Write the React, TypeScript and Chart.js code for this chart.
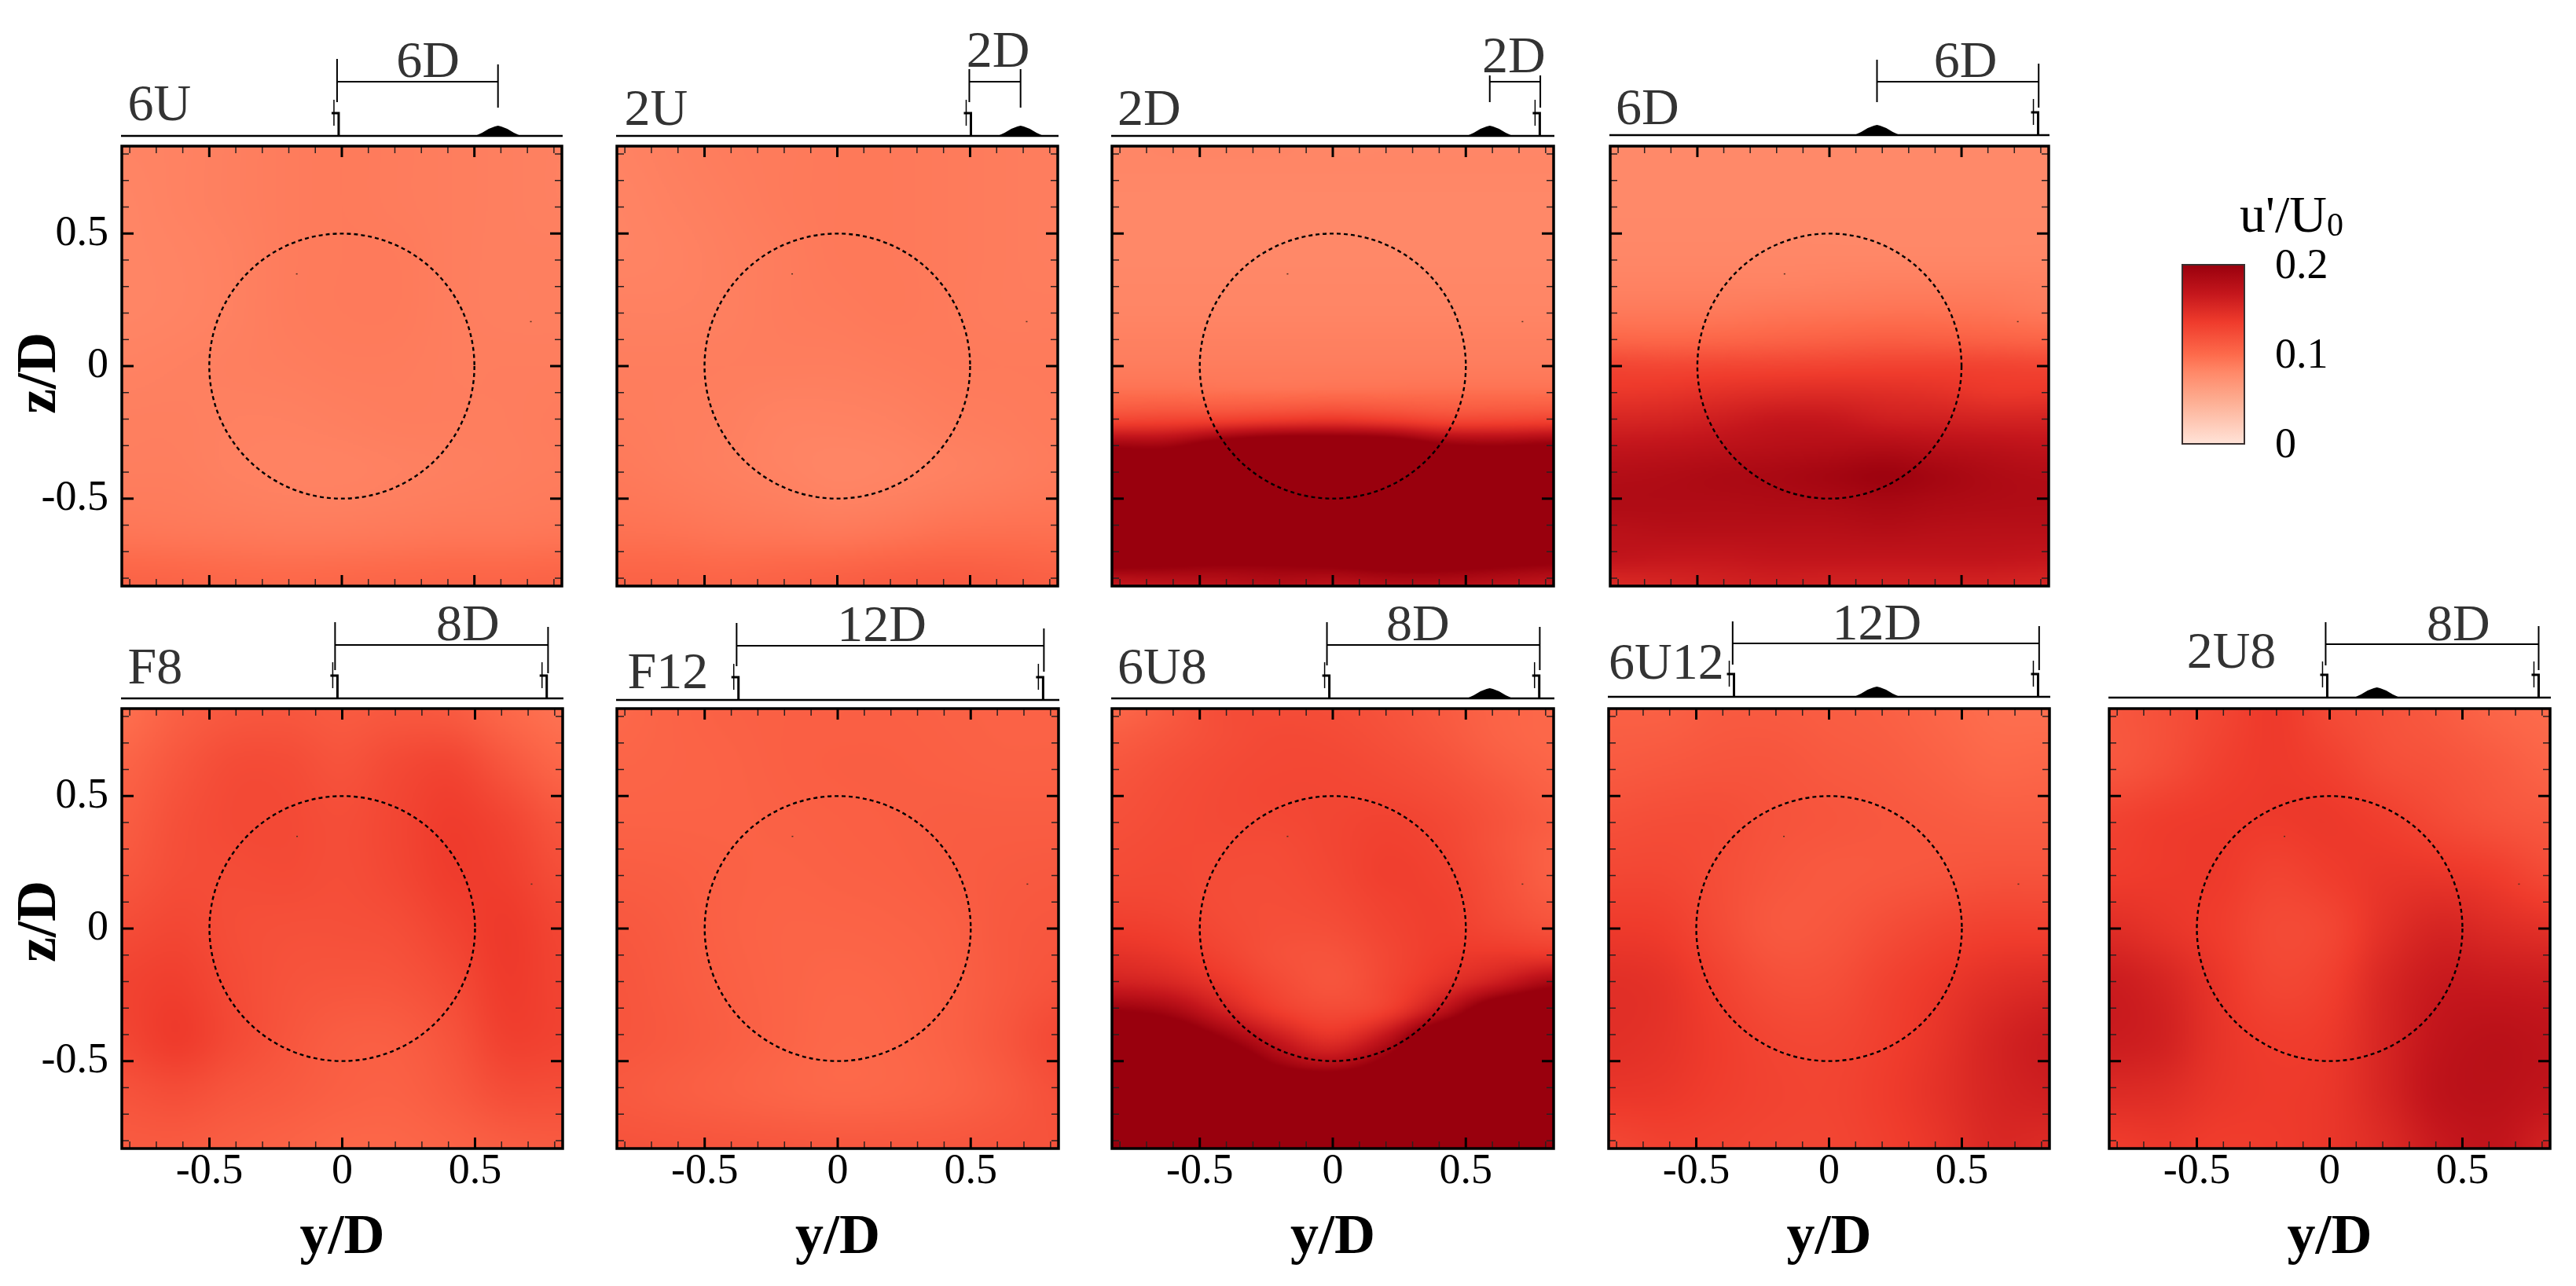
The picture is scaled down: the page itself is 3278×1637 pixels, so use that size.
import React, { useEffect, useRef } from "react";
import { Chart, registerables } from "chart.js";

Chart.register(...registerables);

const SERIF = '"Liberation Serif", "Times New Roman", serif';
const AXIS_MIN = -0.83;
const AXIS_MAX = 0.83;
const MAJOR_TICKS = [-0.5, 0, 0.5];
const MAJOR_LABELS = ["-0.5", "0", "0.5"];
const MINOR_TICKS = [-0.8, -0.7, -0.6, -0.4, -0.3, -0.2, -0.1, 0.1, 0.2, 0.3, 0.4, 0.6, 0.7, 0.8];
const CBAR_TICKS = [0, 0.1, 0.2];
const CBAR_LABELS = ["0", "0.1", "0.2"];
const CMAP_VALUES = [0, 0.05, 0.08, 0.1, 0.136, 0.168, 0.2];
const CMAP_COLORS = ["#ffe3d8", "#fdab8f", "#ff8868", "#fd6a4b", "#ef3b2c", "#c4161c", "#99000d"];
const SPECKS = [[-0.173, 0.35], [0.71, 0.17]];
const HILL_DX = [-0.086, -0.06, -0.035, -0.012, 0, 0.012, 0.035, 0.06, 0.086];
const HILL_H = [0, 4, 9, 12, 13, 12, 9, 4, 0];

// u'/U0: rows from z/D = +0.83 down to -0.83, columns from y/D = -0.83 to +0.83
const grid6U = [
  [.083, .084, .086, .088, .089, .088, .087, .086, .085],
  [.082, .084, .086, .088, .089, .088, .087, .086, .085],
  [.082, .083, .085, .088, .089, .089, .087, .086, .086],
  [.082, .083, .085, .088, .089, .089, .087, .086, .086],
  [.084, .085, .086, .087, .088, .088, .087, .087, .087],
  [.086, .086, .085, .085, .086, .087, .087, .087, .088],
  [.087, .087, .085, .084, .084, .085, .086, .087, .088],
  [.092, .091, .090, .089, .089, .090, .091, .091, .092],
  [.106, .105, .103, .102, .103, .104, .105, .105, .106],
];
const grid2U = [
  [.084, .086, .088, .089, .090, .090, .089, .088, .087],
  [.083, .085, .087, .089, .090, .090, .089, .088, .087],
  [.083, .084, .086, .088, .090, .090, .089, .088, .087],
  [.085, .085, .086, .088, .089, .090, .089, .088, .088],
  [.087, .087, .087, .087, .087, .088, .089, .089, .089],
  [.088, .087, .086, .084, .084, .085, .087, .088, .089],
  [.090, .088, .086, .084, .082, .083, .085, .087, .089],
  [.095, .094, .092, .091, .090, .092, .095, .096, .096],
  [.106, .106, .105, .107, .109, .112, .113, .111, .108],
];
const grid2D = [
  [.081, .082, .082, .082, .081, .081, .081, .081, .081],
  [.081, .081, .081, .081, .081, .081, .081, .081, .081],
  [.080, .080, .080, .080, .080, .080, .080, .080, .080],
  [.080, .080, .080, .080, .080, .080, .080, .080, .080],
  [.080, .080, .080, .080, .080, .080, .080, .080, .080],
  [.081, .081, .081, .081, .081, .081, .081, .081, .081],
  [.082, .082, .082, .082, .082, .082, .082, .082, .082],
  [.085, .085, .085, .085, .085, .085, .085, .085, .085],
  [.088, .088, .088, .088, .088, .088, .088, .088, .088],
  [.098, .098, .097, .097, .098, .098, .098, .098, .098],
  [.130, .132, .135, .140, .143, .138, .130, .130, .132],
  [.200, .200, .225, .240, .240, .235, .210, .205, .210],
  [.240, .240, .240, .240, .240, .240, .240, .240, .240],
  [.250, .250, .250, .250, .250, .250, .250, .250, .250],
  [.250, .250, .250, .250, .250, .250, .250, .250, .250],
  [.220, .215, .210, .210, .215, .220, .220, .215, .210],
  [.168, .172, .175, .180, .175, .180, .180, .175, .170],
];
const grid6D = [
  [.079, .079, .079, .079, .079, .079, .079, .079, .079],
  [.079, .079, .079, .079, .079, .079, .079, .079, .079],
  [.079, .079, .079, .079, .079, .079, .079, .079, .079],
  [.080, .080, .080, .080, .080, .080, .080, .080, .080],
  [.081, .081, .081, .081, .081, .081, .081, .081, .081],
  [.084, .084, .084, .084, .085, .086, .086, .086, .085],
  [.090, .090, .090, .092, .093, .094, .094, .093, .090],
  [.103, .102, .103, .105, .107, .109, .108, .106, .104],
  [.128, .127, .128, .129, .130, .131, .131, .130, .128],
  [.140, .142, .146, .149, .150, .148, .145, .140, .140],
  [.155, .157, .162, .168, .168, .162, .160, .158, .158],
  [.170, .172, .175, .178, .180, .182, .178, .175, .172],
  [.180, .182, .185, .187, .191, .196, .190, .184, .181],
  [.183, .183, .183, .184, .185, .188, .185, .183, .182],
  [.176, .178, .178, .178, .178, .180, .178, .177, .177],
  [.170, .168, .168, .170, .170, .170, .170, .170, .168],
  [.152, .155, .158, .160, .158, .158, .158, .157, .155],
];
const gridF8 = [
  [.097, .108, .114, .115, .112, .114, .112, .102, .095],
  [.105, .115, .123, .123, .118, .125, .128, .115, .103],
  [.110, .120, .125, .125, .122, .128, .135, .128, .115],
  [.115, .122, .123, .124, .122, .127, .135, .133, .122],
  [.123, .127, .122, .120, .120, .122, .130, .137, .128],
  [.130, .133, .124, .118, .116, .117, .124, .136, .130],
  [.128, .136, .125, .116, .110, .110, .118, .132, .130],
  [.118, .122, .116, .112, .108, .107, .113, .122, .122],
  [.112, .112, .109, .106, .103, .103, .106, .110, .112],
];
const gridF12 = [
  [.102, .105, .107, .108, .108, .108, .107, .106, .106],
  [.104, .105, .106, .108, .109, .109, .108, .107, .107],
  [.106, .106, .106, .107, .108, .109, .110, .110, .110],
  [.110, .109, .107, .106, .107, .108, .110, .112, .113],
  [.114, .111, .107, .105, .105, .106, .108, .113, .115],
  [.116, .112, .108, .105, .103, .104, .107, .113, .118],
  [.116, .113, .109, .105, .102, .103, .107, .115, .125],
  [.113, .110, .107, .104, .102, .103, .106, .112, .120],
  [.118, .117, .116, .115, .114, .114, .115, .117, .118],
];
const grid6U8 = [
  [.103, .112, .122, .123, .122, .118, .112, .105, .102],
  [.110, .116, .122, .125, .124, .120, .114, .106, .102],
  [.115, .120, .124, .126, .126, .123, .118, .110, .104],
  [.118, .122, .125, .127, .127, .126, .122, .115, .107],
  [.120, .123, .125, .126, .128, .130, .126, .118, .110],
  [.122, .124, .124, .124, .128, .132, .128, .118, .108],
  [.124, .125, .123, .123, .127, .133, .130, .120, .108],
  [.128, .127, .123, .122, .125, .131, .132, .122, .112],
  [.135, .132, .125, .121, .122, .129, .133, .127, .120],
  [.145, .140, .130, .120, .118, .127, .136, .140, .140],
  [.160, .155, .140, .125, .117, .128, .145, .165, .190],
  [.200, .190, .160, .135, .125, .135, .175, .230, .250],
  [.250, .235, .200, .165, .145, .175, .240, .260, .260],
  [.260, .260, .240, .200, .185, .215, .260, .260, .260],
  [.260, .260, .260, .260, .260, .260, .260, .260, .260],
  [.260, .260, .260, .260, .260, .260, .260, .260, .260],
  [.260, .260, .260, .260, .260, .260, .260, .260, .260],
];
const grid6U12 = [
  [.108, .108, .112, .112, .110, .108, .103, .098, .097],
  [.112, .114, .116, .116, .113, .111, .107, .102, .103],
  [.120, .122, .122, .118, .116, .114, .112, .110, .110],
  [.127, .127, .122, .116, .113, .114, .116, .118, .118],
  [.137, .135, .124, .114, .115, .122, .128, .132, .132],
  [.146, .143, .131, .121, .121, .130, .138, .146, .150],
  [.146, .143, .135, .128, .127, .133, .142, .155, .163],
  [.140, .139, .134, .130, .129, .135, .144, .155, .160],
  [.127, .131, .130, .128, .128, .133, .141, .152, .150],
];
const grid2U8 = [
  [.115, .120, .128, .137, .125, .118, .112, .104, .100],
  [.115, .122, .132, .137, .132, .122, .118, .112, .105],
  [.130, .135, .137, .137, .138, .133, .125, .118, .114],
  [.135, .137, .137, .130, .135, .140, .140, .135, .125],
  [.148, .142, .135, .125, .128, .145, .155, .150, .145],
  [.163, .155, .140, .128, .133, .153, .165, .165, .163],
  [.163, .158, .142, .135, .138, .155, .170, .175, .172],
  [.150, .148, .140, .137, .140, .155, .172, .175, .170],
  [.135, .138, .135, .136, .140, .150, .165, .170, .158],
];

// Layout only: panel boxes in the picture, offsets of the sketch above each panel.
const PANELS = [
  { name: "6U", grid: grid6U, box: [155, 715, 186, 746], yAxis: true, xAxis: false, zTitle: "z/D ", towers: [-0.012], hills: [0.589], span: [-0.018, 0.589], spanLabel: "6D", labelAt: 0.325, nameAt: -0.808, v: { base: -13, bar: -82, label: -88, name: -33, l: [-111, -56], r: [-104, -49] } },
  { name: "2U", grid: grid2U, box: [785, 1346, 186, 746], yAxis: false, xAxis: false, zTitle: "", towers: [0.503], hills: [0.69], span: [0.497, 0.69], spanLabel: "2D", labelAt: 0.605, nameAt: -0.802, v: { base: -13, bar: -82, label: -101, name: -27, l: [-98, -56], r: [-98, -49] } },
  { name: "2D", grid: grid2D, box: [1415, 1977, 186, 746], yAxis: false, xAxis: false, zTitle: "", towers: [0.778], hills: [0.59], span: [0.59, 0.78], spanLabel: "2D", labelAt: 0.68, nameAt: -0.809, v: { base: -13, bar: -82, label: -94, name: -27, l: [-90, -56], r: [-90, -49] } },
  { name: "6D", grid: grid6D, box: [2049, 2607, 186, 746], yAxis: false, xAxis: false, zTitle: "", towers: [0.79], hills: [0.18], span: [0.18, 0.792], spanLabel: "6D", labelAt: 0.515, nameAt: -0.809, v: { base: -14, bar: -82, label: -88, name: -28, l: [-110, -56], r: [-105, -49] } },
  { name: "F8", grid: gridF8, box: [155, 716, 902, 1462], yAxis: true, xAxis: true, zTitle: " z/D", towers: [-0.018, 0.77], hills: [], span: [-0.027, 0.775], spanLabel: "8D", labelAt: 0.473, nameAt: -0.808, v: { base: -13, bar: -81, label: -87, name: -32, l: [-110, -49], r: [-104, -45] } },
  { name: "F12", grid: gridF12, box: [785, 1347, 902, 1462], yAxis: false, xAxis: true, zTitle: "", towers: [-0.373, 0.772], hills: [], span: [-0.38, 0.775], spanLabel: "12D", labelAt: 0.166, nameAt: -0.79, v: { base: -11, bar: -80, label: -86, name: -26, l: [-109, -54], r: [-102, -47] } },
  { name: "6U8", grid: grid6U8, box: [1415, 1977, 902, 1462], yAxis: false, xAxis: true, zTitle: "", towers: [-0.013, 0.776], hills: [0.59], span: [-0.022, 0.778], spanLabel: "8D", labelAt: 0.32, nameAt: -0.809, v: { base: -13, bar: -81, label: -87, name: -32, l: [-110, -55], r: [-104, -49] } },
  { name: "6U12", grid: grid6U12, box: [2047, 2608, 902, 1462], yAxis: false, xAxis: true, zTitle: "", towers: [-0.358, 0.787], hills: [0.18], span: [-0.363, 0.791], spanLabel: "12D", labelAt: 0.18, nameAt: -0.83, v: { base: -15, bar: -83, label: -88, name: -38, l: [-111, -56], r: [-105, -49] } },
  { name: "2U8", grid: grid2U8, box: [2684, 3245, 902, 1462], yAxis: false, xAxis: true, zTitle: "", towers: [-0.009, 0.787], hills: [0.178], span: [-0.015, 0.787], spanLabel: "8D", labelAt: 0.485, nameAt: -0.538, v: { base: -14, bar: -82, label: -87, name: -52, l: [-110, -55], r: [-105, -49] } },
];

function hexToRgb(h: string) {
  return [parseInt(h.slice(1, 3), 16), parseInt(h.slice(3, 5), 16), parseInt(h.slice(5, 7), 16)];
}
const CMAP_RGB = CMAP_COLORS.map(hexToRgb);
function colorOf(v: number) {
  if (v <= CMAP_VALUES[0]) return CMAP_RGB[0];
  const last = CMAP_VALUES.length - 1;
  if (v >= CMAP_VALUES[last]) return CMAP_RGB[last];
  let i = 0;
  while (v > CMAP_VALUES[i + 1]) i++;
  const t = (v - CMAP_VALUES[i]) / (CMAP_VALUES[i + 1] - CMAP_VALUES[i]);
  return CMAP_RGB[i].map((c, k) => c + (CMAP_RGB[i + 1][k] - c) * t);
}
function cubic(a: number, b: number, c: number, d: number, t: number) {
  return b + 0.5 * t * (c - a + t * (2 * a - 5 * b + 4 * c - d + t * (3 * (b - c) + d - a)));
}
function sampleGrid(grid: number[][], u: number, v: number) {
  const nr = grid.length, nc = grid[0].length;
  const fx = u * (nc - 1), fy = v * (nr - 1);
  const ix = Math.min(Math.floor(fx), nc - 2), iy = Math.min(Math.floor(fy), nr - 2);
  const tx = fx - ix, ty = fy - iy;
  const rowAt = (r: number) => {
    const row = grid[Math.max(0, Math.min(nr - 1, r))];
    const at = (c: number) => row[Math.max(0, Math.min(nc - 1, c))];
    return cubic(at(ix - 1), at(ix), at(ix + 1), at(ix + 2), tx);
  };
  return cubic(rowAt(iy - 1), rowAt(iy), rowAt(iy + 1), rowAt(iy + 2), ty);
}
function clearScalePadding(s: any) {
  s.paddingLeft = 0; s.paddingRight = 0; s.paddingTop = 0; s.paddingBottom = 0;
}

const panelPlugin = {
  id: "panelPlugin",
  beforeDatasetsDraw(chart: any) {
    const cfg = chart.options.plugins.panelPlugin;
    const { ctx, scales } = chart;
    const grid: number[][] = cfg.panel.grid;
    const x0 = scales.x.getPixelForValue(AXIS_MIN), x1 = scales.x.getPixelForValue(AXIS_MAX);
    const y0 = scales.y.getPixelForValue(AXIS_MAX), y1 = scales.y.getPixelForValue(AXIS_MIN);
    const n = 280;
    const off = document.createElement("canvas");
    off.width = n; off.height = n;
    const o = off.getContext("2d")!;
    const img = o.createImageData(n, n);
    for (let j = 0; j < n; j++) {
      for (let i = 0; i < n; i++) {
        const c = colorOf(sampleGrid(grid, i / (n - 1), j / (n - 1)));
        const p = (j * n + i) * 4;
        img.data[p] = c[0]; img.data[p + 1] = c[1]; img.data[p + 2] = c[2]; img.data[p + 3] = 255;
      }
    }
    o.putImageData(img, 0, 0);
    ctx.save();
    ctx.imageSmoothingEnabled = true;
    ctx.imageSmoothingQuality = "high";
    ctx.drawImage(off, x0, y0, x1 - x0, y1 - y0);
    ctx.restore();
  },
  afterDraw(chart: any) {
    const { panel } = chart.options.plugins.panelPlugin;
    const { ctx, scales, chartArea: a } = chart;
    const X = (v: number) => scales.x.getPixelForValue(v);
    const Y = (v: number) => scales.y.getPixelForValue(v);
    ctx.save();
    // rotor-disc outline
    ctx.strokeStyle = "#000";
    ctx.lineWidth = 2.4;
    ctx.setLineDash([5, 4]);
    ctx.beginPath();
    ctx.ellipse(X(0), Y(0), Math.abs(X(0.5) - X(0)), Math.abs(Y(0.5) - Y(0)), 0, 0, Math.PI * 2);
    ctx.stroke();
    ctx.setLineDash([]);
    ctx.fillStyle = "#553322";
    for (const s of SPECKS) ctx.fillRect(X(s[0]), Y(s[1]), 2, 1.5);
    // ticks
    const tick = (list: number[], lenX: number, lenY: number, w: number, col: string) => {
      ctx.strokeStyle = col;
      ctx.lineWidth = w;
      ctx.beginPath();
      for (const t of list) {
        const px = X(t), py = Y(t);
        ctx.moveTo(px, a.top); ctx.lineTo(px, a.top + lenX);
        ctx.moveTo(px, a.bottom); ctx.lineTo(px, a.bottom - lenX);
        ctx.moveTo(a.left, py); ctx.lineTo(a.left + lenY, py);
        ctx.moveTo(a.right, py); ctx.lineTo(a.right - lenY, py);
      }
      ctx.stroke();
    };
    tick(MINOR_TICKS, 9, 9, 1.5, "#2a2020");
    tick(MAJOR_TICKS, 14, 15, 3, "#000");
    ctx.strokeStyle = "#000";
    ctx.lineWidth = 3.5;
    ctx.strokeRect(a.left, a.top, a.right - a.left, a.bottom - a.top);
    // site sketch above the panel
    const v = panel.v;
    ctx.lineWidth = 2.5;
    ctx.strokeStyle = "#000";
    ctx.beginPath();
    ctx.moveTo(a.left - 1, a.top + v.base); ctx.lineTo(a.right + 1, a.top + v.base);
    ctx.stroke();
    ctx.fillStyle = "#000";
    for (const h of panel.hills) {
      ctx.beginPath();
      HILL_DX.forEach((dx, i) => ctx.lineTo(X(h + dx), a.top + v.base - HILL_H[i]));
      ctx.closePath();
      ctx.fill();
    }
    for (const t of panel.towers) {
      const px = X(t), b = a.top + v.base;
      ctx.lineWidth = 3;
      ctx.beginPath(); ctx.moveTo(px, b); ctx.lineTo(px, b - 29); ctx.lineTo(px - 9, b - 29); ctx.stroke();
      ctx.lineWidth = 1.5;
      ctx.beginPath(); ctx.moveTo(px - 6, b - 46); ctx.lineTo(px - 6, b - 13); ctx.stroke();
    }
    ctx.lineWidth = 2;
    const [sa, sb] = panel.span;
    ctx.beginPath();
    ctx.moveTo(X(sa), a.top + v.l[0]); ctx.lineTo(X(sa), a.top + v.l[1]);
    ctx.moveTo(X(sb), a.top + v.r[0]); ctx.lineTo(X(sb), a.top + v.r[1]);
    ctx.moveTo(X(sa), a.top + v.bar); ctx.lineTo(X(sb), a.top + v.bar);
    ctx.stroke();
    ctx.fillStyle = "#333";
    ctx.font = `66px ${SERIF}`;
    ctx.textBaseline = "alphabetic";
    ctx.textAlign = "left";
    ctx.fillText(panel.name, X(panel.nameAt), a.top + v.name);
    ctx.textAlign = "center";
    ctx.fillText(panel.spanLabel, X(panel.labelAt), a.top + v.label);
    ctx.restore();
  },
};

function Panel({ panel }: { panel: any }) {
  const ref = useRef<HTMLCanvasElement>(null);
  const [L, R, T, B] = panel.box;
  const padL = panel.yAxis ? L : 12;
  const padR = 12;
  const padT = T < 500 ? T : 170;
  const padB = panel.xAxis ? 1637 - B : 12;
  const W = R - L + padL + padR;
  const H = B - T + padT + padB;
  useEffect(() => {
    const nodes: any[] = [];
    panel.grid.forEach((row: number[], r: number) =>
      row.forEach((val: number, c: number) =>
        nodes.push({
          x: AXIS_MIN + ((AXIS_MAX - AXIS_MIN) * c) / (row.length - 1),
          y: AXIS_MAX - ((AXIS_MAX - AXIS_MIN) * r) / (panel.grid.length - 1),
          v: val,
        })
      )
    );
    const label = (v: number) => {
      const i = MAJOR_TICKS.findIndex((t) => Math.abs(t - v) < 1e-6);
      return i >= 0 ? MAJOR_LABELS[i] : "";
    };
    const chart = new Chart(ref.current as HTMLCanvasElement, {
      type: "scatter",
      data: { datasets: [{ label: "u'/U0 " + panel.name, data: nodes, pointRadius: 0, showLine: false }] },
      plugins: [panelPlugin],
      options: {
        animation: false,
        responsive: false,
        devicePixelRatio: 1,
        layout: { autoPadding: false, padding: { left: 0, top: padT, right: padR, bottom: 0 } },
        plugins: { legend: { display: false }, tooltip: { enabled: false }, panelPlugin: { panel } } as any,
        scales: {
          x: {
            type: "linear",
            min: AXIS_MIN,
            max: AXIS_MAX,
            grid: { display: false, drawTicks: false },
            border: { display: false },
            afterBuildTicks: (s: any) => { s.ticks = MAJOR_TICKS.map((value) => ({ value })); },
            afterFit: (s: any) => { s.height = padB; clearScalePadding(s); },
            ticks: { display: panel.xAxis, callback: label, autoSkip: false, maxRotation: 0, padding: -3, color: "#000", font: { family: SERIF, size: 54 } },
            title: { display: panel.xAxis, text: "y/D", color: "#000", padding: { top: 0, bottom: 17 }, font: { family: SERIF, size: 72, weight: "bold" } },
          },
          y: {
            type: "linear",
            min: AXIS_MIN,
            max: AXIS_MAX,
            grid: { display: false, drawTicks: false },
            border: { display: false },
            afterBuildTicks: (s: any) => { s.ticks = MAJOR_TICKS.map((value) => ({ value })); },
            afterFit: (s: any) => { s.width = padL; clearScalePadding(s); },
            ticks: { display: panel.yAxis, callback: label, autoSkip: false, padding: 17, color: "#000", font: { family: SERIF, size: 54 } },
            title: { display: panel.yAxis, text: panel.zTitle, color: "#000", padding: { top: 8, bottom: 0 }, font: { family: SERIF, size: 72, weight: "bold" } },
          },
        },
      } as any,
    });
    return () => chart.destroy();
  }, []);
  return (
    <canvas
      ref={ref}
      width={W}
      height={H}
      style={{ position: "absolute", left: L - padL, top: T - padT, width: W, height: H, display: "block" }}
    />
  );
}

const colorbarPlugin = {
  id: "colorbarPlugin",
  beforeDatasetsDraw(chart: any) {
    const { ctx, scales, chartArea: a } = chart;
    const s = scales.y;
    const g = ctx.createLinearGradient(0, s.getPixelForValue(0), 0, s.getPixelForValue(0.2));
    CMAP_VALUES.forEach((v, i) => g.addColorStop(v / 0.2, CMAP_COLORS[i]));
    ctx.save();
    ctx.fillStyle = g;
    ctx.fillRect(a.left, a.top, a.right - a.left, a.bottom - a.top);
    ctx.strokeStyle = "#3a3030";
    ctx.lineWidth = 2;
    ctx.strokeRect(a.left, a.top, a.right - a.left, a.bottom - a.top);
    ctx.fillStyle = "#000";
    ctx.textAlign = "left";
    ctx.textBaseline = "alphabetic";
    ctx.font = `66px ${SERIF}`;
    ctx.fillText("u'/U", a.left + 73, a.top - 42);
    const w = ctx.measureText("u'/U").width;
    ctx.font = `42px ${SERIF}`;
    ctx.fillText("0", a.left + 73 + w, a.top - 37);
    ctx.restore();
  },
};

function Colorbar() {
  const ref = useRef<HTMLCanvasElement>(null);
  useEffect(() => {
    const chart = new Chart(ref.current as HTMLCanvasElement, {
      type: "scatter",
      data: { datasets: [{ label: "u'/U0", data: CBAR_TICKS.map((v) => ({ x: 0, y: v })), pointRadius: 0 }] },
      plugins: [colorbarPlugin],
      options: {
        animation: false,
        responsive: false,
        devicePixelRatio: 1,
        layout: { autoPadding: false, padding: { left: 17, top: 97, right: 0, bottom: 35 } },
        plugins: { legend: { display: false }, tooltip: { enabled: false } },
        scales: {
          x: { display: false, min: 0, max: 1 },
          y: {
            type: "linear",
            position: "right",
            min: 0,
            max: 0.2,
            grid: { display: false, drawTicks: false },
            border: { display: false },
            afterBuildTicks: (s: any) => { s.ticks = CBAR_TICKS.map((value) => ({ value })); },
            afterFit: (s: any) => { s.width = 164; clearScalePadding(s); },
            ticks: {
              padding: 39,
              labelOffset: 3,
              color: "#000",
              font: { family: SERIF, size: 54 },
              callback: (v: number) => CBAR_LABELS[CBAR_TICKS.findIndex((t) => Math.abs(t - v) < 1e-6)] ?? "",
            },
          },
        },
      } as any,
    });
    return () => chart.destroy();
  }, []);
  return <canvas ref={ref} width={260} height={360} style={{ position: "absolute", left: 2760, top: 240, width: 260, height: 360, display: "block" }} />;
}

export default function App() {
  return (
    <div style={{ position: "fixed", left: 0, top: 0, width: 3278, height: 1637, overflow: "hidden", background: "#fff" }}>
      {PANELS.map((p) => (
        <Panel key={p.name + p.box[2]} panel={p} />
      ))}
      <Colorbar />
    </div>
  );
}
